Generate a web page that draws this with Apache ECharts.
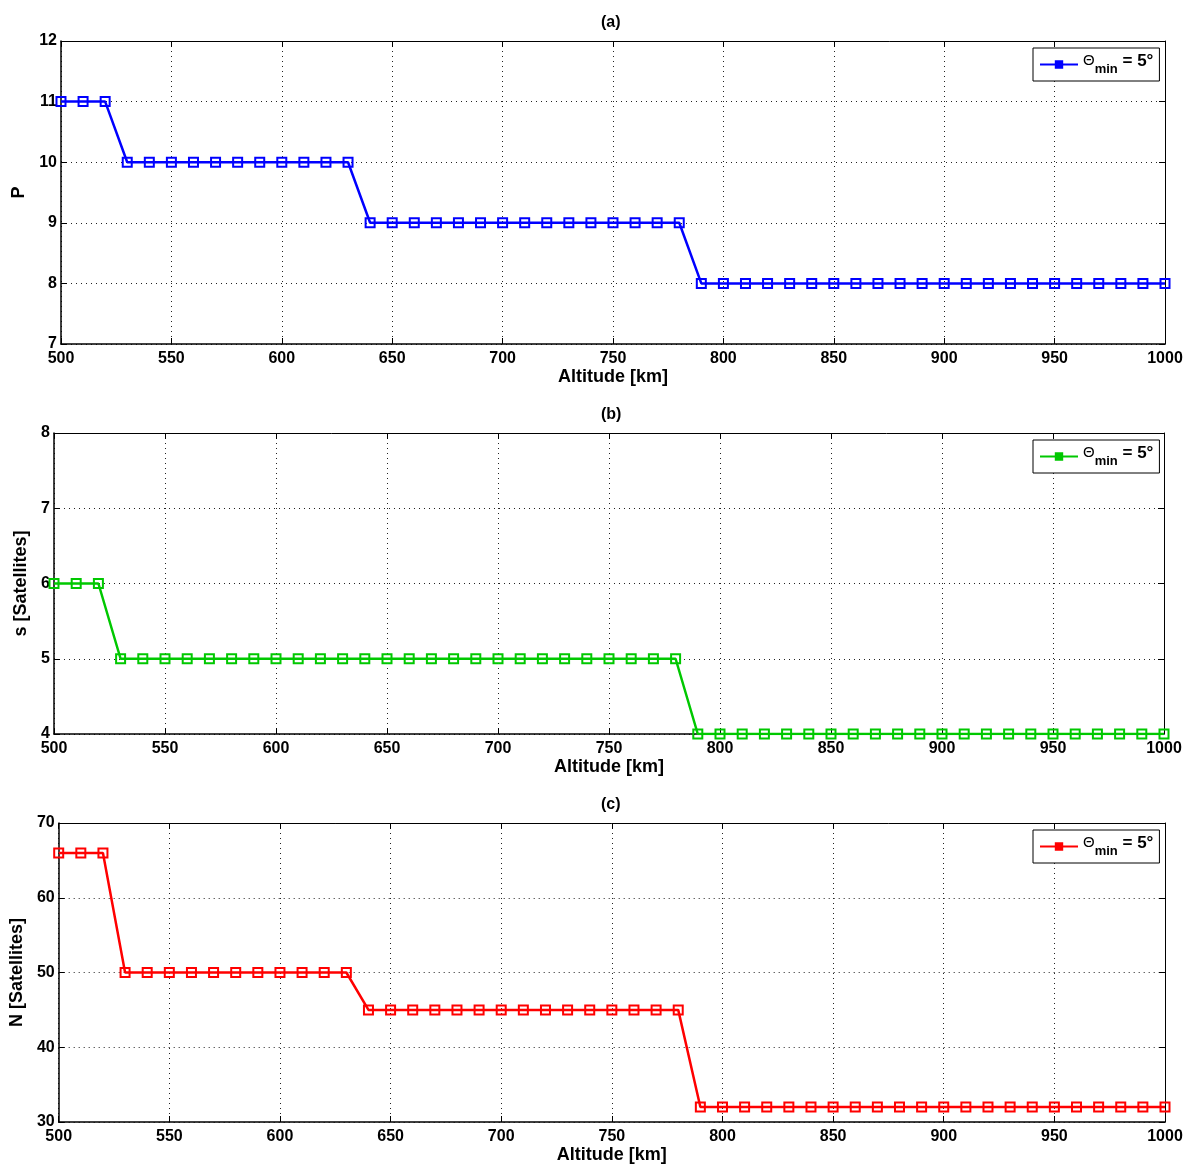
<!DOCTYPE html>
<html>
<head>
<meta charset="utf-8">
<script src="https://cdn.jsdelivr.net/npm/echarts@6/dist/echarts.min.js"></script>
<style>
  html, body { margin: 0; padding: 0; background: #fff; }
  #chart { width: 1186px; height: 1167px; }
</style>
</head>
<body>
<div id="chart"></div>
<script>
// altitude steps in km
const altitudes = [];
for (let h = 500; h <= 1000; h += 10) altitudes.push(h);

// values, one per altitude (51 points)
const planes = [
  11, 11, 11,                                                   // 500-520
  10, 10, 10, 10, 10, 10, 10, 10, 10, 10, 10,                   // 530-630
  9, 9, 9, 9, 9, 9, 9, 9, 9, 9, 9, 9, 9, 9, 9,                  // 640-780
  8, 8, 8, 8, 8, 8, 8, 8, 8, 8, 8, 8, 8, 8, 8, 8, 8, 8, 8, 8, 8, 8  // 790-1000
];
const satsPerPlane = [
  6, 6, 6,                                                      // 500-520
  5, 5, 5, 5, 5, 5, 5, 5, 5, 5, 5, 5, 5,                        // 530-650
  5, 5, 5, 5, 5, 5, 5, 5, 5, 5, 5, 5, 5,                        // 660-780
  4, 4, 4, 4, 4, 4, 4, 4, 4, 4, 4, 4, 4, 4, 4, 4, 4, 4, 4, 4, 4, 4  // 790-1000
];
const totalSats = [
  66, 66, 66,
  50, 50, 50, 50, 50, 50, 50, 50, 50, 50, 50,
  45, 45, 45, 45, 45, 45, 45, 45, 45, 45, 45, 45, 45, 45, 45,
  32, 32, 32, 32, 32, 32, 32, 32, 32, 32, 32, 32, 32, 32, 32, 32, 32, 32, 32, 32, 32, 32
];

const panelTitles = ['(a)', '(b)', '(c)'];
const yNames = ['P', 's [Satellites]', 'N [Satellites]'];
const yRanges = [[7, 12, 1], [4, 8, 1], [30, 70, 10]];
const colors = ['#0000ff', '#00c800', '#ff0000'];
const seriesData = [planes, satsPerPlane, totalSats];

// plot boxes in pixels: left, top, width, height
const boxes = [
  [61, 41, 1104, 303],
  [54, 433, 1110, 301],
  [58, 823, 1107, 299]
];
const yNameGaps = [27, 17, 27];

const font = 'Liberation Sans, Arial, Helvetica, sans-serif';
const gridLine = { show: true, lineStyle: { color: '#222', type: [1, 4], width: 1 } };

const chart = echarts.init(document.getElementById('chart'));

const grid = [], xAxis = [], yAxis = [], series = [], legend = [], title = [];

boxes.forEach((b, i) => {
  grid.push({ left: b[0], top: b[1], width: b[2], height: b[3], show: false });

  title.push({
    text: panelTitles[i],
    left: 596, top: b[1] - 31,
    textStyle: { fontFamily: font, fontSize: 16, fontWeight: 'bold', color: '#000' }
  });

  // bottom x axis
  xAxis.push({
    type: 'value', gridIndex: i, min: 500, max: 1000, interval: 50,
    name: 'Altitude [km]', nameLocation: 'middle', nameGap: 24,
    nameTextStyle: { fontFamily: font, fontSize: 18, fontWeight: 'bold', color: '#000' },
    axisLine: { show: true, onZero: false, lineStyle: { color: '#000', width: 1.5 } },
    axisTick: { show: true, inside: true, length: 6, lineStyle: { color: '#000' } },
    axisLabel: {
      fontFamily: font, fontSize: 16, fontWeight: 'bold', color: '#000', margin: 7,
      formatter: v => String(v)
    },
    splitLine: gridLine
  });
  // top x axis, ticks only
  xAxis.push({
    type: 'value', gridIndex: i, position: 'top', min: 500, max: 1000, interval: 50,
    axisLine: { show: true, onZero: false, lineStyle: { color: '#000', width: 1 } },
    axisTick: { show: true, inside: true, length: 6, lineStyle: { color: '#000' } },
    axisLabel: { show: false }, splitLine: { show: false }
  });

  const r = yRanges[i];
  yAxis.push({
    type: 'value', gridIndex: i, min: r[0], max: r[1], interval: r[2],
    name: yNames[i], nameLocation: 'middle', nameGap: yNameGaps[i], nameRotate: 90,
    nameTextStyle: { fontFamily: font, fontSize: 18, fontWeight: 'bold', color: '#000' },
    axisLine: { show: true, onZero: false, lineStyle: { color: '#000', width: 1.5 } },
    axisTick: { show: true, inside: true, length: 6, lineStyle: { color: '#000' } },
    axisLabel: { fontFamily: font, fontSize: 16, fontWeight: 'bold', color: '#000', margin: 4 },
    splitLine: gridLine
  });
  yAxis.push({
    type: 'value', gridIndex: i, position: 'right', min: r[0], max: r[1], interval: r[2],
    axisLine: { show: true, onZero: false, lineStyle: { color: '#000', width: 1 } },
    axisTick: { show: true, inside: true, length: 6, lineStyle: { color: '#000' } },
    axisLabel: { show: false }, splitLine: { show: false }
  });

  const name = 'theta' + i;
  series.push({
    name: name,
    type: 'line',
    xAxisIndex: i * 2,
    yAxisIndex: i * 2,
    data: altitudes.map((h, k) => [h, seriesData[i][k]]),
    symbol: 'rect',
    symbolSize: 9,
    showAllSymbol: true,
    lineStyle: { color: colors[i], width: 2.5 },
    itemStyle: { color: 'rgba(255,255,255,0)', borderColor: colors[i], borderWidth: 2 },
    emphasis: { disabled: true },
    z: 3
  });

  legend.push({
    data: [{ name: name, itemStyle: { color: colors[i], borderColor: colors[i], borderWidth: 2 } }],
    left: 1033, top: b[1] + 7,
    orient: 'vertical',
    backgroundColor: '#fff',
    borderColor: '#000', borderWidth: 1,
    padding: [5, 6, 5, 6],
    itemWidth: 38, itemHeight: 8, itemGap: 0,
    selectedMode: false,
    formatter: () => '{g|Θ}{s|min}{t| = 5°}',
    textStyle: {
      fontFamily: font, color: '#000',
      rich: {
        g: { fontSize: 15, verticalAlign: 'top', padding: [0, 0, 6, 0] },
        t: { fontSize: 17, fontWeight: 'bold', verticalAlign: 'top', padding: [0, 0, 6, 0] },
        s: { fontSize: 13, fontWeight: 'bold', verticalAlign: 'bottom', padding: [6, 0, 0, 0] }
      }
    }
  });
});

chart.setOption({
  animation: false,
  title: title,
  grid: grid,
  xAxis: xAxis,
  yAxis: yAxis,
  legend: legend,
  series: series
});
</script>
</body>
</html>
